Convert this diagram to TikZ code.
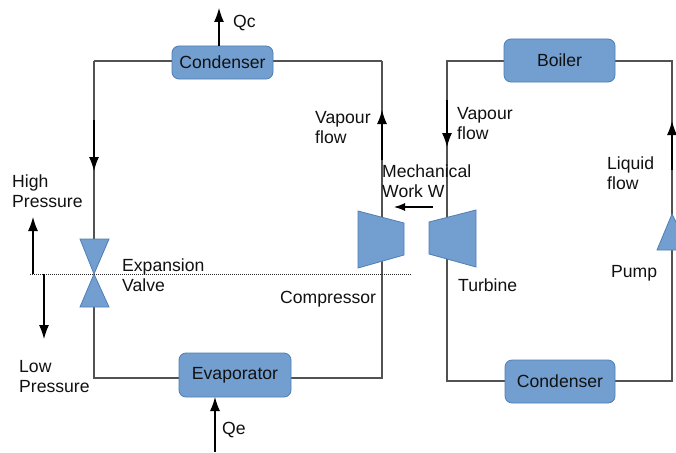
\documentclass[tikz,border=0pt]{standalone}
\usepackage{fontspec}
\setmainfont{Liberation Sans}
\usetikzlibrary{arrows.meta}
\definecolor{boxfill}{HTML}{729FCF}
\definecolor{boxedge}{HTML}{4F7FB5}
\definecolor{txt}{HTML}{111111}
\newcommand{\boxtext}[1]{\raisebox{-1.2pt}{#1}}
\tikzset{
 box/.style={draw=boxedge,fill=boxfill,rounded corners=7pt,inner sep=0pt,line width=.8pt,text=txt,font=\fontsize{17.6}{20}\selectfont},
 shapefill/.style={draw=boxedge,fill=boxfill,line width=.8pt},
 pipe/.style={draw=black!68,line width=1.1pt},
 flow/.style={draw=black,line width=1.1pt,-{Latex[length=14pt,width=10pt]}},
 workflow/.style={draw=black,line width=1.1pt,-{Latex[length=11pt,width=8pt]}},
 lab/.style={anchor=west,align=left,inner sep=0pt,text=txt,font=\fontsize{17.6}{20}\selectfont},
 divider/.style={draw=black!85,line width=1pt,dash pattern=on 1pt off 1pt}
}
\begin{document}
\begin{tikzpicture}[x=1pt,y=-1pt]
\useasboundingbox (0,0) rectangle (676,452);
\fill[white] (0,0) rectangle (676,452);
% junction coordinates
\coordinate (c1) at (94,61); \coordinate (c2) at (382,61);
\coordinate (c3) at (94,378); \coordinate (c4) at (382,378);
\coordinate (c5) at (447,61); \coordinate (c6) at (672,61);
\coordinate (c7) at (447,381); \coordinate (c8) at (672,381);
\coordinate (vt) at (94,240); \coordinate (vb) at (94,306);
\coordinate (vleft) at (30,274); \coordinate (vright) at (412,274);
\coordinate (hp0) at (33,274); \coordinate (hp1) at (33,217);
\coordinate (lp0) at (44,274); \coordinate (lp1) at (44,339);
\coordinate (tip1) at (94,171); \coordinate (tip2) at (382,110);
\coordinate (tip3) at (447,147); \coordinate (tip4) at (672,121);
\coordinate (qc0) at (219,46); \coordinate (qc1) at (219,8);
\coordinate (qe0) at (215,452); \coordinate (qe1) at (215,397);
\coordinate (w0) at (433,207); \coordinate (w1) at (394,207);
% pipes (behind the shapes)
\draw[pipe] (c1) -- (c2) (c1) -- (vt) (vb) -- (c3) -- (c4) -- (c2);
\draw[pipe] (c5) -- (c6) -- (c8) -- (c7) -- cycle;
% boxes
\node[box,minimum width=101pt,minimum height=33pt] (cond1) at (222.5,62.5) {\boxtext{Condenser}};
\node[box,minimum width=112pt,minimum height=44pt] (evap) at (235,375) {\boxtext{Evaporator}};
\node[box,minimum width=111pt,minimum height=43pt] (boiler) at (559.5,60.5) {\boxtext{Boiler}};
\node[box,minimum width=110pt,minimum height=43pt] (cond2) at (560,381.5) {\boxtext{Condenser}};
% valve, compressor, turbine, pump
\draw[shapefill] (80,239) -- (109,239) -- (94,274) -- (109,307) -- (80,307) -- (94,274) -- cycle;
\draw[shapefill] (358,211) -- (404,223) -- (404,255) -- (358,268) -- cycle;
\draw[shapefill] (429,222) -- (476,210) -- (476,267) -- (429,254) -- cycle;
\draw[shapefill] (672,214) -- (657,250) -- (677,250) -- (677,224) -- cycle;
% divider
\draw[divider] (vleft) -- (vright);
% arrows
\draw[flow] (94,120) -- (tip1);
\draw[flow] (382,160) -- (tip2);
\draw[flow] (447,100) -- (tip3);
\draw[flow] (672,170) -- (tip4);
\draw[flow] (qc0) -- (qc1);
\draw[flow] (qe0) -- (qe1);
\draw[flow] (hp0) -- (hp1);
\draw[flow] (lp0) -- (lp1);
\draw[workflow] (w0) -- (w1);
% labels
\node[lab] (lqc) at (233,23) {Qc};
\node[lab] (lqe) at (222,430) {Qe};
\node[lab] (lv1) at (315,128) {Vapour\\flow};
\node[lab] (lv2) at (457,124) {Vapour\\flow};
\node[lab] (lmw) at (382,181) {Mechanical\\Work W};
\node[lab] (lliq) at (607,173) {Liquid\\flow};
\node[lab] (lpump) at (611,273) {Pump};
\node[lab] (ltur) at (458,285) {Turbine};
\node[lab] (lcomp) at (280,299) {Compressor};
\node[lab] (lexp) at (122,275) {Expansion\\Valve};
\node[lab] (lhp) at (12,191) {High\\Pressure};
\node[lab] (llp) at (19,377) {Low\\Pressure};
\end{tikzpicture}
\end{document}
